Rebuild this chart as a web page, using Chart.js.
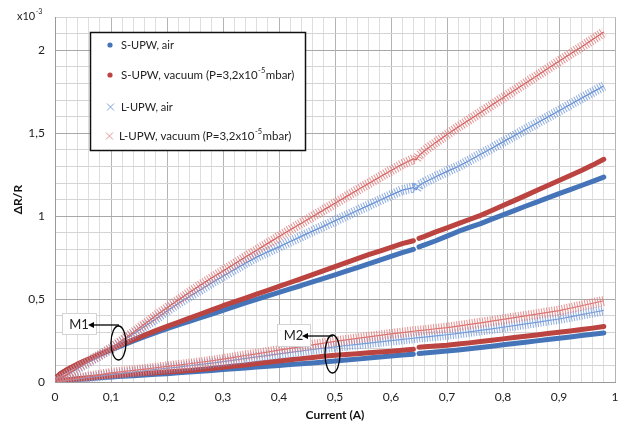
<!DOCTYPE html>
<html>
<head>
<meta charset="utf-8">
<script src="https://cdn.jsdelivr.net/npm/chart.js@4.4.0/dist/chart.umd.min.js"></script>
<style>
  body { margin: 0; background: #fff; }
  #wrap { width: 629px; height: 426px; }
</style>
</head>
<body>
<div id="wrap"><canvas id="chart" width="629" height="426"></canvas></div>
<script>
const current = [0, 0.01,
  0.02, 0.04, 0.06, 0.08, 0.1, 0.12, 0.14, 0.16, 0.18, 0.2, 0.22, 0.24, 0.26, 0.28, 0.3, 0.32,
  0.34, 0.36, 0.38, 0.4, 0.42, 0.44, 0.46, 0.48, 0.5, 0.52, 0.54, 0.56, 0.58, 0.6, 0.62, 0.64,
  0.645, 0.65,
  0.66, 0.68, 0.7, 0.72, 0.74, 0.76, 0.78, 0.8, 0.82, 0.84, 0.86, 0.88, 0.9, 0.92, 0.94, 0.96, 0.98];

// dR/R (x10^-3), group M1
const m1SAir = [0.02, 0.05,
  0.07, 0.105, 0.135, 0.165, 0.193, 0.22, 0.248, 0.274, 0.298, 0.322, 0.345, 0.365, 0.388, 0.41, 0.432, 0.455,
  0.477, 0.498, 0.52, 0.54, 0.562, 0.582, 0.604, 0.625, 0.646, 0.668, 0.69, 0.712, 0.735, 0.758, 0.78, 0.8,
  null, 0.815,
  0.827, 0.852, 0.88, 0.908, 0.932, 0.955, 0.982, 1.008, 1.034, 1.06, 1.085, 1.11, 1.136, 1.16, 1.185, 1.21, 1.236];
const m1SVac = [0.02, 0.05,
  0.072, 0.108, 0.138, 0.168, 0.198, 0.226, 0.255, 0.283, 0.31, 0.335, 0.36, 0.385, 0.41, 0.435, 0.46, 0.483,
  0.506, 0.53, 0.553, 0.576, 0.6, 0.624, 0.648, 0.672, 0.696, 0.72, 0.744, 0.768, 0.79, 0.812, 0.834, 0.852,
  null, 0.866,
  0.878, 0.905, 0.93, 0.955, 0.98, 1.005, 1.034, 1.064, 1.094, 1.124, 1.155, 1.185, 1.215, 1.245, 1.275, 1.308, 1.343];
const m1LAir = [0, 0.02,
  0.04, 0.08, 0.12, 0.16, 0.2, 0.245, 0.29, 0.335, 0.38, 0.428, 0.474, 0.516, 0.557, 0.598, 0.638, 0.677,
  0.716, 0.753, 0.785, 0.815, 0.847, 0.878, 0.91, 0.94, 0.972, 1.003, 1.034, 1.065, 1.096, 1.127, 1.157, 1.172,
  1.16, 1.185,
  1.205, 1.238, 1.27, 1.3, 1.336, 1.373, 1.41, 1.448, 1.485, 1.523, 1.56, 1.598, 1.636, 1.673, 1.711, 1.748, 1.785];
const m1LVac = [0, 0.022,
  0.043, 0.085, 0.125, 0.163, 0.205, 0.252, 0.3, 0.35, 0.4, 0.448, 0.494, 0.54, 0.585, 0.628, 0.67, 0.712,
  0.754, 0.795, 0.836, 0.877, 0.918, 0.958, 0.998, 1.038, 1.078, 1.118, 1.158, 1.197, 1.236, 1.275, 1.313, 1.345,
  1.34, 1.365,
  1.395, 1.445, 1.492, 1.538, 1.582, 1.626, 1.67, 1.714, 1.758, 1.802, 1.846, 1.89, 1.934, 1.978, 2.02, 2.065, 2.11];

// group M2
const m2SAir = [0, 0.005,
  0.01, 0.015, 0.02, 0.025, 0.03, 0.034, 0.038, 0.042, 0.046, 0.05, 0.055, 0.06, 0.065, 0.07, 0.075, 0.08,
  0.085, 0.09, 0.095, 0.1, 0.105, 0.11, 0.115, 0.12, 0.126, 0.132, 0.138, 0.145, 0.151, 0.157, 0.163, 0.168,
  null, 0.172,
  0.175, 0.181, 0.187, 0.193, 0.2, 0.208, 0.216, 0.224, 0.232, 0.24, 0.248, 0.256, 0.264, 0.272, 0.28, 0.288, 0.295];
const m2SVac = [0, 0.006,
  0.012, 0.02, 0.026, 0.031, 0.036, 0.041, 0.046, 0.051, 0.056, 0.061, 0.065, 0.069, 0.075, 0.082, 0.089, 0.096,
  0.103, 0.111, 0.119, 0.127, 0.134, 0.141, 0.148, 0.155, 0.161, 0.166, 0.171, 0.176, 0.181, 0.186, 0.192, 0.197,
  null, 0.21,
  0.212, 0.217, 0.222, 0.229, 0.236, 0.244, 0.252, 0.26, 0.268, 0.276, 0.284, 0.292, 0.3, 0.308, 0.316, 0.325, 0.335];
const m2LAir = [0, 0.005,
  0.01, 0.018, 0.027, 0.036, 0.045, 0.052, 0.06, 0.068, 0.076, 0.083, 0.09, 0.098, 0.106, 0.114, 0.123, 0.132,
  0.142, 0.151, 0.161, 0.17, 0.179, 0.187, 0.196, 0.204, 0.212, 0.22, 0.227, 0.235, 0.242, 0.25, 0.257, 0.264,
  0.266, 0.268,
  0.271, 0.278, 0.285, 0.293, 0.302, 0.311, 0.32, 0.33, 0.34, 0.35, 0.36, 0.37, 0.38, 0.393, 0.406, 0.419, 0.432];
const m2LVac = [0, 0.006,
  0.012, 0.022, 0.033, 0.044, 0.055, 0.062, 0.07, 0.078, 0.086, 0.094, 0.102, 0.11, 0.119, 0.128, 0.138, 0.149,
  0.16, 0.17, 0.181, 0.192, 0.203, 0.213, 0.224, 0.234, 0.245, 0.254, 0.263, 0.272, 0.281, 0.29, 0.298, 0.306,
  0.308, 0.31,
  0.313, 0.321, 0.328, 0.337, 0.347, 0.357, 0.367, 0.378, 0.388, 0.399, 0.409, 0.42, 0.43, 0.445, 0.46, 0.475, 0.49];

const legendLabels = ['S-UPW, air', 'S-UPW, vacuum (P=3,2x10', 'L-UPW, air', 'L-UPW, vacuum (P=3,2x10'];

const BLUE = '#4575b8';
const RED = '#bb4340';
const FONT = 'Lato, "Liberation Sans", sans-serif';

function pts(arr) {
  return current.map((x, i) => ({ x: x, y: arr[i] }));
}

function dots(arr, color, order) {
  return {
    data: pts(arr), showLine: true, borderColor: color, backgroundColor: color,
    borderWidth: 5, pointRadius: 0, borderCapStyle: 'round', borderJoinStyle: 'round',
    spanGaps: false, order: order
  };
}
// the cross markers are drawn as a hatched band around a thin line
function crossBand(arr, color, order) {
  return {
    data: pts(arr), showLine: true, borderColor: color, borderWidth: 10,
    borderDash: [1, 1.6], borderJoinStyle: 'round', pointRadius: 0, order: order
  };
}
function crossCore(arr, color, order) {
  return { data: pts(arr), showLine: true, borderColor: color, borderWidth: 1.2, pointRadius: 0, order: order };
}

const datasets = [
  dots(m1SAir, BLUE, 4), dots(m1SVac, RED, 3),
  crossBand(m1LAir, 'rgba(120,157,220,0.85)', 2), crossCore(m1LAir, '#5f8bd0', 2),
  crossBand(m1LVac, 'rgba(226,124,124,0.85)', 1), crossCore(m1LVac, '#cc5a5a', 1),
  dots(m2SAir, BLUE, 4), dots(m2SVac, RED, 3),
  crossBand(m2LAir, 'rgba(120,157,220,0.85)', 2), crossCore(m2LAir, '#7a9fd8', 2),
  crossBand(m2LVac, 'rgba(226,124,124,0.85)', 1), crossCore(m2LVac, '#d77272', 1)
];

function supText(ctx, base, sup, x, y, size) {
  ctx.font = size + 'px ' + FONT;
  ctx.fillText(base, x, y);
  let w = ctx.measureText(base).width;
  ctx.font = (size - 4) + 'px ' + FONT;
  ctx.fillText(sup, x + w + 0.5, y - 4);
  let w2 = ctx.measureText(sup).width;
  return x + w + w2 + 1;
}

function ellipseArrow(ctx, label, box, ell, arrowY, arrowFrom, arrowTo) {
  ctx.save();
  ctx.fillStyle = '#fff';
  ctx.fillRect(box[0], box[1], box[2], box[3]);
  ctx.strokeStyle = '#d4d4d4';
  ctx.lineWidth = 1;
  ctx.strokeRect(box[0] + 0.5, box[1] + 0.5, box[2], box[3]);
  ctx.fillStyle = '#222';
  ctx.font = '13px ' + FONT;
  ctx.textBaseline = 'middle';
  ctx.textAlign = 'center';
  ctx.fillText(label, box[0] + box[2] / 2, box[1] + box[3] / 2 + 1);
  ctx.strokeStyle = '#000';
  ctx.lineWidth = 1.3;
  ctx.beginPath();
  ctx.ellipse(ell[0], ell[1], ell[2], ell[3], 0, 0, Math.PI * 2);
  ctx.stroke();
  ctx.beginPath();
  ctx.moveTo(arrowFrom, arrowY);
  ctx.lineTo(arrowTo + 5, arrowY);
  ctx.stroke();
  ctx.fillStyle = '#000';
  ctx.beginPath();
  ctx.moveTo(arrowTo, arrowY);
  ctx.lineTo(arrowTo + 6, arrowY - 3);
  ctx.lineTo(arrowTo + 6, arrowY + 3);
  ctx.closePath();
  ctx.fill();
  ctx.restore();
}

const extras = {
  id: 'extras',
  afterDatasetsDraw(chart) {
    const ctx = chart.ctx;
    ellipseArrow(ctx, 'M1', [62, 313, 34, 21], [118.5, 343, 7.5, 17], 325, 119, 88);
    ellipseArrow(ctx, 'M2', [277, 324, 33, 22], [332.5, 354, 7.5, 19], 336, 333, 302);

    // legend box
    ctx.save();
    ctx.fillStyle = '#fff';
    ctx.fillRect(90, 32, 215, 118);
    ctx.strokeStyle = '#111';
    ctx.lineWidth = 1.5;
    ctx.strokeRect(90.5, 32.5, 215, 118);
    const rows = [45, 75, 107, 136];
    ctx.textBaseline = 'middle';
    ctx.fillStyle = BLUE;
    ctx.beginPath(); ctx.arc(110, rows[0], 2.6, 0, Math.PI * 2); ctx.fill();
    ctx.fillStyle = RED;
    ctx.beginPath(); ctx.arc(110, rows[1], 2.6, 0, Math.PI * 2); ctx.fill();
    ctx.lineWidth = 1;
    ctx.strokeStyle = '#7fa3dc';
    ctx.beginPath();
    ctx.moveTo(107, rows[2] - 3.5); ctx.lineTo(114, rows[2] + 3.5);
    ctx.moveTo(114, rows[2] - 3.5); ctx.lineTo(107, rows[2] + 3.5);
    ctx.stroke();
    ctx.strokeStyle = '#e49494';
    ctx.beginPath();
    ctx.moveTo(106, rows[3] - 3.5); ctx.lineTo(113, rows[3] + 3.5);
    ctx.moveTo(113, rows[3] - 3.5); ctx.lineTo(106, rows[3] + 3.5);
    ctx.stroke();
    ctx.fillStyle = '#222';
    const fs = 11;
    ctx.font = fs + 'px ' + FONT;
    ctx.fillText(legendLabels[0], 121, rows[0]);
    ctx.fillText(legendLabels[2], 121, rows[2]);
    let x = supText(ctx, legendLabels[1], '-5', 121, rows[1], fs + 0.5);
    ctx.font = (fs + 0.5) + 'px ' + FONT;
    ctx.fillText('mbar)', x, rows[1]);
    x = supText(ctx, legendLabels[3], '-5', 119, rows[3], fs + 0.5);
    ctx.font = (fs + 0.5) + 'px ' + FONT;
    ctx.fillText('mbar)', x, rows[3]);

    // axis multiplier
    ctx.fillStyle = '#222';
    supText(ctx, 'x10', '-3', 17, 16, 11);
    ctx.restore();
  }
};

function fmt(v) {
  return String(v).replace('.', ',');
}

new Chart(document.getElementById('chart'), {
  type: 'scatter',
  data: { datasets: datasets },
  options: {
    responsive: false,
    animation: false,
    layout: { padding: { top: 6, right: 14, left: 0, bottom: 0 } },
    plugins: { legend: { display: false }, tooltip: { enabled: false } },
    scales: {
      x: {
        type: 'linear', min: 0, max: 1,
        afterFit: s => { s.height = 44; },
        ticks: {
          stepSize: 0.02, autoSkip: false, maxRotation: 0, padding: 8,
          color: '#222', font: { family: FONT, size: 12 },
          callback: v => Math.round(v * 100) % 10 === 0 ? fmt(Math.round(v * 10) / 10) : ''
        },
        grid: {
          drawTicks: false,
          color: c => (c.tick && Math.round(c.tick.value * 100) % 10 === 0) ? '#b4b4b4' : '#dedede'
        },
        border: { color: '#9a9a9a' },
        title: { display: true, text: 'Current (A)', color: '#111', padding: { top: 0, bottom: 4 },
          font: { family: FONT, size: 12, weight: 'bold' } }
      },
      y: {
        type: 'linear', min: 0, max: 2.2,
        afterFit: s => { s.width = 55; },
        ticks: {
          stepSize: 0.1, autoSkip: false, padding: 10,
          color: '#222', font: { family: FONT, size: 12 },
          callback: v => Math.round(v * 10) % 5 === 0 ? fmt(Math.round(v * 10) / 10) : ''
        },
        grid: {
          drawTicks: false,
          color: c => (c.tick && Math.round(c.tick.value * 10) % 5 === 0) ? '#a8a8a8' : '#d4d4d4'
        },
        border: { color: '#9a9a9a' },
        title: { display: true, text: 'ΔR/R', color: '#111', padding: { top: 11, bottom: 0 },
          font: { family: FONT, size: 12, weight: 'bold' } }
      }
    }
  },
  plugins: [extras]
});
</script>
</body>
</html>
